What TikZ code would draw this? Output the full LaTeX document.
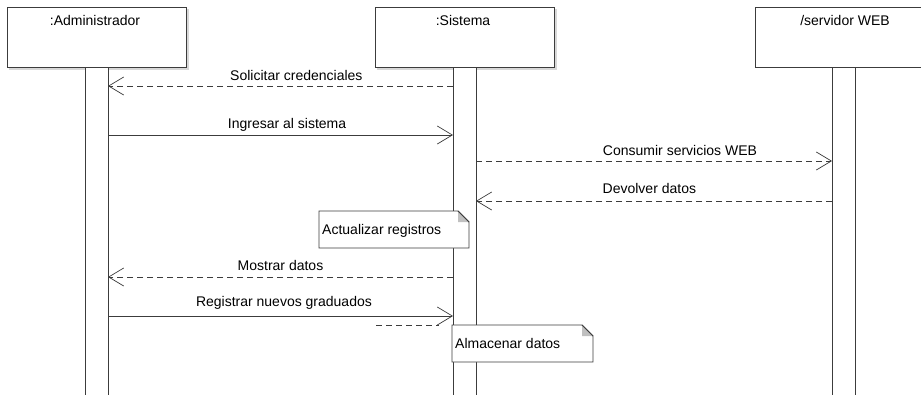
\documentclass[tikz,border=0pt]{standalone}
\usepackage{fontspec}
\setmainfont{Liberation Sans}
\usetikzlibrary{arrows.meta}
\definecolor{ln}{HTML}{3C3C3C}
\definecolor{fold}{HTML}{C0C0C0}
\definecolor{shd}{HTML}{D8D8D8}
\tikzset{
  head/.style={draw=ln, line width=1.2pt, fill=white, minimum width=179pt, minimum height=60pt, inner sep=0pt, anchor=north west},
  bar/.style={draw=ln, line width=0.8pt, fill=white, minimum width=23pt, minimum height=340pt, inner sep=0pt, anchor=north west},
  lbl/.style={font=\fontsize{14}{16}\selectfont, inner sep=0pt},
  msg/.style={draw=ln, line width=0.7pt, -{Straight Barb[length=15pt,width=18pt,line width=0.7pt]}},
  ret/.style={msg, dash pattern=on 6pt off 4pt},
}
\newcommand{\notebox}[5]{% x1,y1,x2,y2,text
  \draw[ln, line width=0.8pt, fill=white] (#1,#2) -- ({#3-11},#2) -- (#3,{#2+11}) -- (#3,#4) -- (#1,#4) -- cycle;
  \fill[fold] ({#3-11},#2) -- (#3,{#2+11}) -- ({#3-11},{#2+11}) -- cycle;
  \draw[ln, line width=0.8pt] ({#3-11},#2) -- (#3,{#2+11});
  \node[lbl, anchor=base west] at ({#1+3},{(#2+#4)/2+5}) {#5};
}
\begin{document}
\begin{tikzpicture}[x=1pt, y=-1pt]
\useasboundingbox (0,0) rectangle (921,394);
\fill[white] (0,0) rectangle (921,394);
% shadows
\fill[shd] (9,9) rectangle (189,70);
\fill[shd] (377,9) rectangle (557,70);
% heads
\node[head] (ha) at (7,7) {};
\node[head] (hs) at (375,7) {};
\node[head] (hw) at (755,7) {};
\node[lbl, anchor=base] at (95,25) {:Administrador};
\node[lbl, anchor=base] at (463,25) {:Sistema};
\node[lbl, anchor=base] at (845,25) {/servidor WEB};
% bars
\node[bar] (ba) at (85,67) {};
\node[bar] (bs) at (453,67) {};
\node[bar] (bw) at (832,67) {};
% coordinates
\coordinate (a1) at (108,86);  \coordinate (s1) at (453,86);
\coordinate (a2) at (108,135); \coordinate (s2) at (453,135);
\coordinate (s3) at (476,161); \coordinate (w3) at (832,161);
\coordinate (s4) at (476,201); \coordinate (w4) at (832,201);
\coordinate (a5) at (108,277); \coordinate (s5) at (453,277);
\coordinate (a6) at (108,316); \coordinate (s6) at (453,316);
\coordinate (d1) at (376,325); \coordinate (d2) at (439,325);
% messages
\draw[ret] (s1) -- node[lbl, pos=0.454, anchor=base, yshift=6pt] {Solicitar credenciales} (a1);
\draw[msg] (a2) -- node[lbl, pos=0.519, anchor=base, yshift=7pt] {Ingresar al sistema} (s2);
\draw[ret] (s3) -- node[lbl, pos=0.573, anchor=base, yshift=6pt] {Consumir servicios WEB} (w3);
\draw[ret] (w4) -- node[lbl, pos=0.513, anchor=base, yshift=8pt] {Devolver datos} (s4);
\draw[ret] (s5) -- node[lbl, pos=0.50, anchor=base, yshift=7pt] {Mostrar datos} (a5);
\draw[msg] (a6) -- node[lbl, pos=0.51, anchor=base, yshift=10pt] {Registrar nuevos graduados} (s6);
\draw[ln, line width=0.7pt, dash pattern=on 6pt off 4pt] (d1) -- (d2);
% notes
\notebox{319}{211}{469}{248}{Actualizar registros}
\notebox{452}{325}{593}{362}{Almacenar datos}
\end{tikzpicture}
\end{document}
